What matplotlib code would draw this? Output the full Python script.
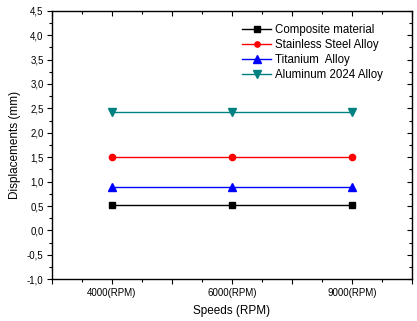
import numpy as np
import matplotlib.pyplot as plt
from matplotlib.ticker import MultipleLocator, FuncFormatter

plt.rcParams['font.family'] = ['Liberation Sans', 'DejaVu Sans']

speeds = ["4000(RPM)", "6000(RPM)", "9000(RPM)"]
composite = [0.52, 0.52, 0.52]
stainless = [1.50, 1.50, 1.50]
titanium = [0.90, 0.90, 0.90]
aluminum = [2.42, 2.42, 2.42]

x = np.arange(1, len(speeds) + 1)

fig = plt.figure(figsize=(4.17, 3.21), dpi=100)
ax = fig.add_axes([0.1247, 0.1299, 0.8633, 0.8368])

ax.plot(x, composite, color="black", marker="s", markersize=4.5, lw=1, label="Composite material")
ax.plot(x, stainless, color="red", marker="o", markersize=4.5, lw=1, label="Stainless Steel Alloy")
ax.plot(x, titanium, color="blue", marker="^", markersize=6, lw=1, label="Titanium  Alloy")
ax.plot(x, aluminum, color="#008080", marker="v", markersize=6, lw=1, label="Aluminum 2024 Alloy")

ax.set_xlim(0.5, 3.5)
ax.set_ylim(-1.0, 4.5)

ax.xaxis.set_major_locator(MultipleLocator(0.5))
ax.xaxis.set_minor_locator(MultipleLocator(0.25))
ax.xaxis.set_major_formatter(FuncFormatter(
    lambda v, p: speeds[int(round(v)) - 1] if abs(v - round(v)) < 1e-6 and 1 <= round(v) <= 3 else ""))
ax.yaxis.set_major_locator(MultipleLocator(0.5))
ax.yaxis.set_minor_locator(MultipleLocator(0.25))
ax.yaxis.set_major_formatter(FuncFormatter(lambda v, p: ("%.1f" % v).replace(".", ",")))

ax.tick_params(which="both", labelsize=7, width=0.8)
ax.tick_params(which="major", length=3.5)
ax.tick_params(which="minor", length=2.5)
ax.tick_params(axis="x", which="both", top=True, pad=2.5)
ax.tick_params(axis="y", which="both", right=True, pad=2.5)
for t in ax.xaxis.get_major_ticks() + ax.xaxis.get_minor_ticks():
    t.tick2line.set_marker(3)
for t in ax.yaxis.get_major_ticks() + ax.yaxis.get_minor_ticks():
    t.tick2line.set_marker(0)
for s in ax.spines.values():
    s.set_linewidth(1)

ax.set_xlabel("Speeds (RPM)", fontsize=8.5, labelpad=5)
ax.set_ylabel("Displacements (mm)", fontsize=8.5, labelpad=4)

ax.legend(loc="upper left", bbox_to_anchor=(0.50, 0.99), frameon=False, fontsize=8.3,
          numpoints=1, handlelength=2.5, handletextpad=0.3, labelspacing=0.28, markerscale=0.85)

fig.savefig("out.png", dpi=100)
